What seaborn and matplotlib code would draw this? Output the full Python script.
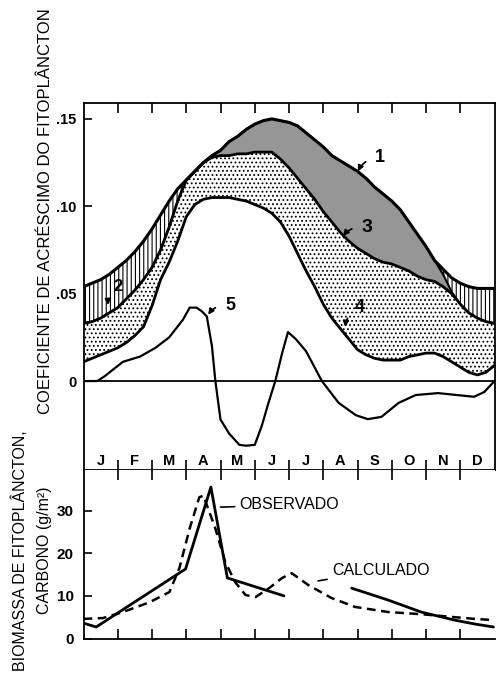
import numpy as np
import matplotlib
matplotlib.use("Agg")
import matplotlib.pyplot as plt
import seaborn as sns

sns.set_style("ticks")
plt.rcParams['font.family'] = ['Liberation Sans', 'DejaVu Sans']
plt.rcParams['hatch.linewidth'] = 0.8
for k in ('text.color', 'axes.labelcolor', 'xtick.color', 'ytick.color', 'axes.edgecolor'):
    plt.rcParams[k] = 'black'

# --- dados ---
# grade de meses (0 = 1 jan, 12 = 31 dez), passo de 1/4 de mes
mes = np.arange(0, 12.01, 0.25)

# 1: limite superior (envelope)
curva1 = [0.054, 0.056, 0.058, 0.061, 0.065, 0.069, 0.074, 0.080, 0.087, 0.095, 0.103, 0.110,
          0.115, 0.120, 0.125, 0.129, 0.132, 0.137, 0.140, 0.144, 0.147, 0.149, 0.150, 0.149,
          0.148, 0.146, 0.142, 0.138, 0.134, 0.129, 0.126, 0.123, 0.120, 0.116, 0.111, 0.107,
          0.103, 0.098, 0.091, 0.084, 0.077, 0.069, 0.064, 0.059, 0.056, 0.054, 0.053, 0.053, 0.053]
# 2: limite inferior da area hachurada
curva2 = [0.033, 0.034, 0.036, 0.039, 0.042, 0.047, 0.052, 0.058, 0.065, 0.075, 0.088, 0.103,
          0.115, 0.120, 0.125, 0.129, 0.132, 0.137, 0.140, 0.144, 0.147, 0.149, 0.150, 0.149,
          0.148, 0.146, 0.142, 0.138, 0.134, 0.129, 0.126, 0.123, 0.120, 0.116, 0.111, 0.107,
          0.103, 0.098, 0.091, 0.084, 0.077, 0.069, 0.061, 0.051, 0.044, 0.039, 0.036, 0.034, 0.033]
# 3: limite inferior da area escura
curva3 = [0.033, 0.034, 0.036, 0.039, 0.042, 0.047, 0.052, 0.058, 0.065, 0.075, 0.088, 0.103,
          0.115, 0.120, 0.125, 0.128, 0.129, 0.129, 0.130, 0.130, 0.131, 0.131, 0.131, 0.127,
          0.122, 0.116, 0.110, 0.104, 0.097, 0.091, 0.085, 0.080, 0.076, 0.073, 0.070, 0.068,
          0.067, 0.065, 0.063, 0.060, 0.058, 0.057, 0.054, 0.050, 0.044, 0.039, 0.036, 0.034, 0.033]
# 4: limite inferior da area pontilhada
curva4 = [0.011, 0.013, 0.015, 0.017, 0.019, 0.022, 0.026, 0.031, 0.043, 0.058, 0.068, 0.080,
          0.094, 0.101, 0.104, 0.105, 0.105, 0.105, 0.104, 0.103, 0.101, 0.099, 0.096, 0.091,
          0.083, 0.073, 0.063, 0.054, 0.044, 0.036, 0.030, 0.024, 0.018, 0.015, 0.013, 0.012,
          0.012, 0.012, 0.014, 0.015, 0.016, 0.016, 0.014, 0.011, 0.008, 0.005, 0.0035, 0.005, 0.009]

# 5: coeficiente liquido
x5 = [0, 0.4, 0.6, 1.15, 1.65, 2.1, 2.5, 2.9, 3.1, 3.3, 3.45, 3.6, 3.75, 3.85, 4.0, 4.25,
      4.55, 4.75, 5.0, 5.2, 5.4, 5.6, 5.8, 5.97, 6.2, 6.5, 6.96, 7.45, 7.95, 8.3, 8.7, 9.2,
      9.7, 10.35, 10.9, 11.4, 11.7, 12.0]
y5 = [0.0, 0.0, 0.0025, 0.011, 0.014, 0.019, 0.025, 0.035, 0.042, 0.042, 0.040, 0.037, 0.020,
      0.0, -0.022, -0.030, -0.0365, -0.037, -0.0365, -0.026, -0.0125, 0.0, 0.016, 0.028, 0.024,
      0.017, 0.0, -0.0125, -0.0195, -0.0218, -0.0205, -0.0125, -0.008, -0.0069, -0.008, -0.009,
      -0.0063, 0.0]

# biomassa observada (dois trechos) e calculada
obs1_x = [0, 0.37, 2.98, 3.72, 4.2, 5.85]
obs1_y = [3.6, 2.7, 16.3, 35.5, 14.2, 10.0]
obs2_x = [7.83, 8.9, 9.86, 10.84, 11.42, 11.97]
obs2_y = [11.8, 9.0, 6.2, 4.3, 3.4, 2.7]
calc_x = [0, 0.57, 1.15, 1.93, 2.51, 2.8, 3.1, 3.38, 3.5, 3.85, 4.14, 4.43, 4.73, 5.02,
          5.42, 5.8, 6.08, 6.57, 7.24, 7.93, 8.9, 9.86, 10.84, 11.42, 12]
calc_y = [4.6, 4.8, 6.2, 8.5, 10.9, 16.5, 25.8, 33.1, 33.5, 25.8, 17.9, 13.2, 10.2, 9.7,
          11.8, 14.2, 15.3, 12.5, 9.5, 7.4, 6.2, 5.7, 5.0, 4.6, 4.3]

meses = ['J', 'F', 'M', 'A', 'M', 'J', 'J', 'A', 'S', 'O', 'N', 'D']
yticks_top = [0, 0.05, 0.10, 0.15]
ylabels_top = ['0', '.05', '.10', '.15']
yticks_bot = [0, 10, 20, 30]

c1, c2, c3, c4 = map(np.array, (curva1, curva2, curva3, curva4))

# --- figura ---
fig = plt.figure(figsize=(4.96, 6.75), dpi=100)
ax1 = fig.add_axes([83.5 / 496, 1 - 470 / 675, 411 / 496, 367 / 675])
ax2 = fig.add_axes([83.5 / 496, 1 - 638.5 / 675, 411 / 496, 168.5 / 675])

# areas
ax1.fill_between(mes, c2, c1, where=c1 > c2 + 1e-4, interpolate=True,
                 facecolor='white', edgecolor='black', hatch='||||', linewidth=0)
ax1.fill_between(mes, c3, c2, where=c2 > c3 + 1e-4, interpolate=True,
                 facecolor='#969696', linewidth=0)
ax1.fill_between(mes, c4, c3, facecolor='white', edgecolor='black', hatch='....', linewidth=0)

sns.lineplot(x=mes, y=c2, ax=ax1, color='black', lw=1.5)
sns.lineplot(x=mes, y=c1, ax=ax1, color='black', lw=2.2)
sns.lineplot(x=mes, y=c3, ax=ax1, color='black', lw=2.0)
sns.lineplot(x=mes, y=c4, ax=ax1, color='black', lw=2.0)
sns.lineplot(x=x5, y=y5, ax=ax1, color='black', lw=1.6)
ax1.axhline(0, color='black', lw=1.3)

ax1.set_xlim(0, 12)
ax1.set_ylim(-0.0509, 0.1591)
ax1.set_xticks(range(1, 12))
ax1.set_xticklabels([])
ax1.tick_params(axis='x', direction='in', top=True, bottom=True, length=7, width=1.2)
ax1.set_yticks(yticks_top)
ax1.set_yticklabels(ylabels_top, fontweight='bold')
ax1.tick_params(axis='y', direction='in', left=True, right=False, length=6, width=1.2,
                pad=5, labelsize=10.5)
for s in ax1.spines.values():
    s.set_linewidth(1.3)

for i, m in enumerate(meses):
    ax1.text(i + 0.5, -0.0455, m, ha='center', va='center', fontsize=10.5, fontweight='bold')

# rotulos numerados
setas = dict(arrowstyle='-|>', color='black', lw=1.3, mutation_scale=8,
             shrinkA=5, shrinkB=0, connectionstyle='arc3,rad=0.3')
ax1.annotate('1', xy=(8.01, 0.120), xytext=(8.66, 0.128), fontsize=13, fontweight='bold',
             ha='center', va='center', arrowprops=setas)
ax1.annotate('3', xy=(7.58, 0.083), xytext=(8.28, 0.088), fontsize=14, fontweight='bold',
             ha='center', va='center', arrowprops=setas)
ax1.annotate('2', xy=(0.72, 0.0435), xytext=(1.0, 0.054), fontsize=12, fontweight='bold',
             ha='center', va='center', arrowprops=setas)
ax1.annotate('4', xy=(7.64, 0.031), xytext=(8.07, 0.042), fontsize=13, fontweight='bold',
             ha='center', va='center', arrowprops=setas)
ax1.annotate('5', xy=(3.64, 0.038), xytext=(4.28, 0.0435), fontsize=13, fontweight='bold',
             ha='center', va='center', arrowprops=setas)

# painel inferior
sns.lineplot(x=obs1_x, y=obs1_y, ax=ax2, color='black', lw=2.0)
sns.lineplot(x=obs2_x, y=obs2_y, ax=ax2, color='black', lw=2.0)
sns.lineplot(x=calc_x, y=calc_y, ax=ax2, color='black', lw=1.8, linestyle=(0, (3.5, 2.2)))

ax2.set_xlim(0, 12)
ax2.set_ylim(0, 39.5)
ax2.set_xticks(range(1, 12))
ax2.set_xticklabels([])
ax2.tick_params(axis='x', direction='in', top=True, bottom=True, length=7, width=1.2)
ax2.set_yticks(yticks_bot)
ax2.set_yticklabels([str(v) for v in yticks_bot], fontweight='bold')
ax2.tick_params(axis='y', direction='in', left=True, right=False, length=6, width=1.2,
                pad=7, labelsize=11)
ax2.spines['right'].set_visible(False)
ax2.spines['top'].set_visible(False)
for s in ('left', 'bottom'):
    ax2.spines[s].set_linewidth(1.3)

ax2.annotate('OBSERVADO', xy=(4.0, 30.8), xytext=(4.55, 31.3), fontsize=11.5,
             ha='left', va='center', arrowprops=dict(arrowstyle='-', color='black', lw=1.2,
                                                     shrinkA=1, shrinkB=0))
ax2.annotate('CALCULADO', xy=(6.85, 13.5), xytext=(7.25, 16.0), fontsize=11.5,
             ha='left', va='center', arrowprops=dict(arrowstyle='-', color='black', lw=1.2,
                                                     shrinkA=1, shrinkB=0))

# titulos dos eixos
fig.text(46 / 496, 1 - 211 / 675, 'COEFICIENTE DE ACRÉSCIMO DO FITOPLÂNCTON',
         rotation=90, ha='center', va='center', fontsize=12)
fig.text(20 / 496, 1 - 551 / 675, 'BIOMASSA DE FITOPLÂNCTON,',
         rotation=90, ha='center', va='center', fontsize=11.5)
fig.text(45 / 496, 1 - 550 / 675, 'CARBONO (g/m²)',
         rotation=90, ha='center', va='center', fontsize=11.5)

fig.savefig('out.png', dpi=100)
plt.close()
